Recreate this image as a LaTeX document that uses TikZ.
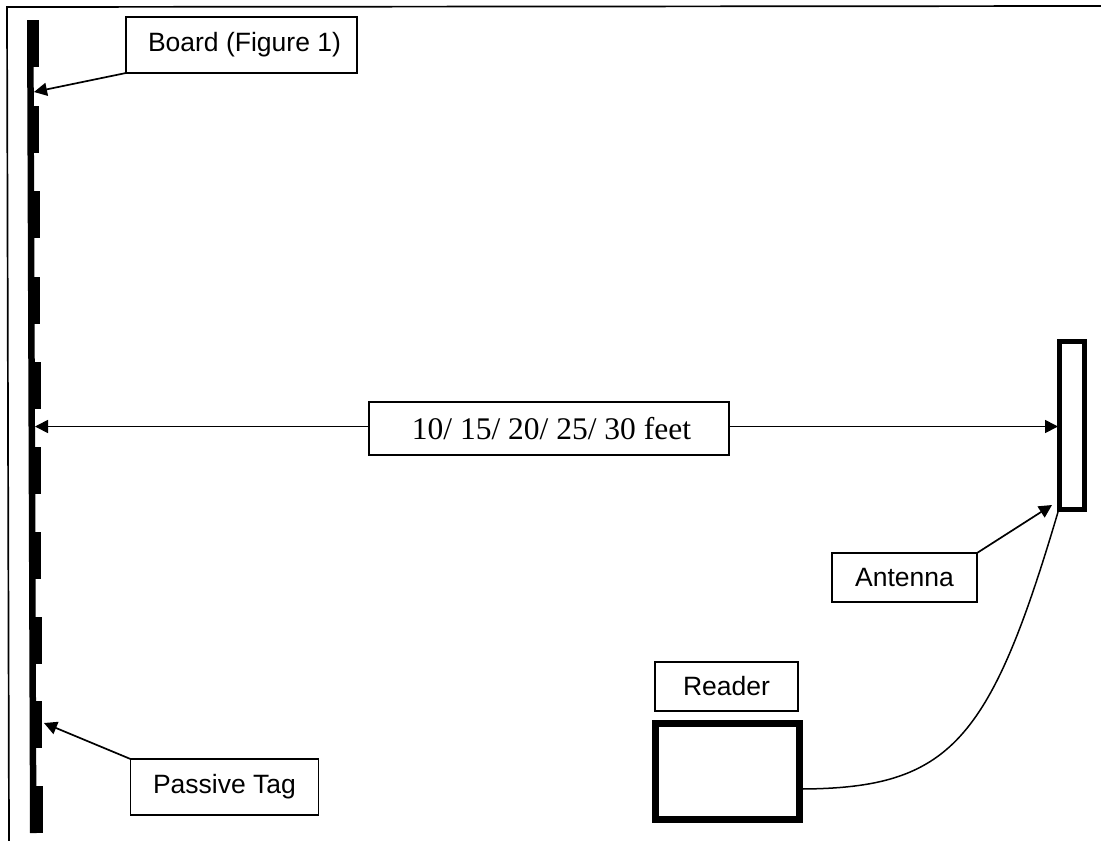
\documentclass[tikz,border=0pt]{standalone}
\usepackage{fontspec}
\setmainfont{Liberation Sans}
\newfontfamily\seriffont{Liberation Serif}
\usetikzlibrary{arrows.meta}
\tikzset{x=1pt,y=-1pt,
  labelbox/.style={draw=black,line width=1.2pt,fill=white,inner sep=0pt,outer sep=0pt,font=\fontsize{26.5}{28}\selectfont,anchor=north west},
  conn/.style={draw=black,line width=1.7pt,-{Triangle[length=13pt,width=13pt]}},
  thickbox/.style={draw=black,inner sep=0pt,outer sep=0pt,anchor=north west}
}
\begin{document}
\begin{tikzpicture}
\useasboundingbox (0,0) rectangle (1101,841);
\draw[line width=1.7pt] (9,841) -- (7,7) -- (1101,6);
% board
\fill (27,20) -- (33.5,20) -- (36.5,833) -- (30,833) -- cycle;
\foreach \y/\xa in {20/38.5,106/39,191/39.5,277/40,362/40.5,447/40.5,532/41,617/41.5,701/42,786/42.5}
  \fill (\xa-8,\y) rectangle (\xa,\y+47);
\node[labelbox,minimum width=231pt,minimum height=56pt] (board) at (126,17) {\hspace*{6pt}Board (Figure 1)};
\node[labelbox,minimum width=188pt,minimum height=56pt] (tag) at (130.5,759) {Passive Tag};
\node[labelbox,minimum width=145pt,minimum height=49pt] (ant) at (832,553) {Antenna};
\node[labelbox,minimum width=143pt,minimum height=49pt] (reader) at (655,662) {Reader};
\node[labelbox,font=\seriffont\fontsize{31.5}{34}\selectfont,minimum width=360pt,minimum height=53pt] (dist) at (369,402) {\hspace*{5pt}10/ 15/ 20/ 25/ 30 feet};
\node[thickbox,line width=5pt,minimum width=25pt,minimum height=167.5pt] (antenna) at (1059.5,341.5) {};
\node[thickbox,line width=7pt,minimum width=144pt,minimum height=96.5pt] (rd) at (655,723) {};
\coordinate (boardpt) at (34,92);
\coordinate (tagpt) at (44,723);
\coordinate (antpt) at (1052,505);
\coordinate (distl) at (35,426.5);
\coordinate (distr) at (1058,426.5);
\coordinate (distls) at (dist.west |- distl);
\coordinate (distrs) at (dist.east |- distr);
\coordinate (wirestart) at (802,789);
\coordinate (wireend) at (1058,512);
\draw[conn] (board.south west) -- (boardpt);
\draw[conn] (tag.north west) -- (tagpt);
\draw[conn] (ant.north east) -- (antpt);
\draw[conn] (distls) -- (distl);
\draw[conn] (distrs) -- (distr);
\draw[line width=1.5pt] (wirestart) .. controls (950,788) and (990,742) .. (wireend);
\end{tikzpicture}
\end{document}
